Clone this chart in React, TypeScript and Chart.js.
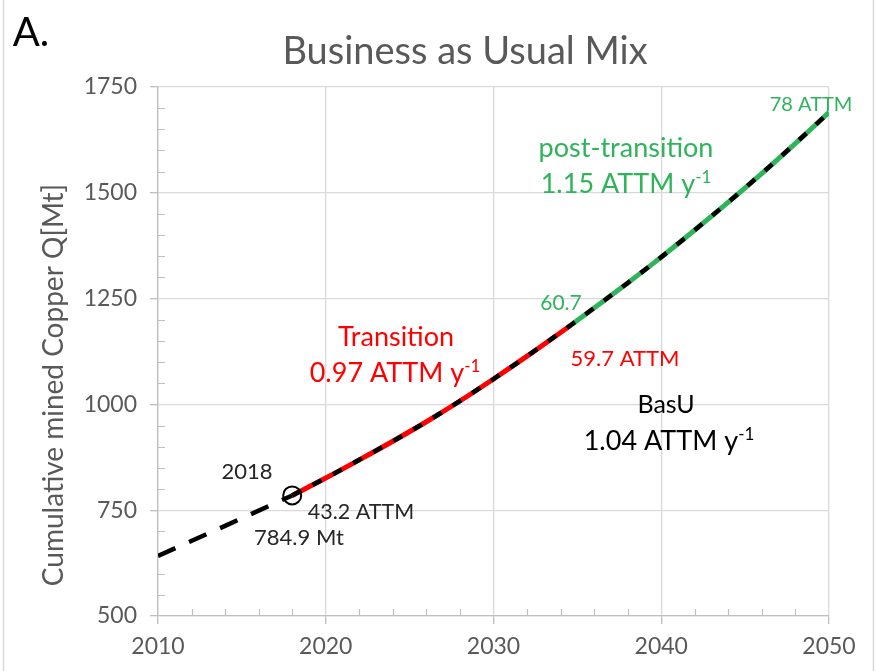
import React, { useEffect, useRef } from 'react';
import { Chart, registerables } from 'chart.js';
Chart.register(...registerables);

// ---- data ----
const histYears = [2010, 2014, 2018];
const histQ = [642, 713, 784.9];
const projYears = [2018, 2020, 2022, 2024, 2026, 2028, 2030, 2032, 2034, 2034.6, 2036, 2038, 2040, 2042, 2044, 2046, 2048, 2050];
const projQ = [784.9, 826, 869, 913, 959, 1008, 1060, 1114, 1170, 1187, 1228, 1287, 1348, 1412, 1478, 1546, 1617, 1690];
const transitionEndYear = 2034.6;
const markerYear = 2018;
const markerQ = 784.9;
const xTicks = [2010, 2020, 2030, 2040, 2050];
const yTicks = [500, 750, 1000, 1250, 1500, 1750];
const xMinorStep = 2;
const yMinorStep = 50;

const RED = '#ff0000';
const GREEN = '#2fb45c';
const GRAY_TXT = '#595959';
const GRID = '#d9d9d9';
const FONT = 'Lato';

const pts = (xs: number[], ys: number[]) => xs.map((x, i) => ({ x, y: ys[i] }));

type Part = { t: string; sup?: boolean };

function drawParts(ctx: CanvasRenderingContext2D, parts: Part[], cx: number, y: number, size: number, color: string) {
  ctx.save();
  ctx.fillStyle = color;
  ctx.textBaseline = 'alphabetic';
  ctx.textAlign = 'left';
  let total = 0;
  const widths = parts.map(p => {
    ctx.font = `${p.sup ? Math.round(size * 0.62) : size}px ${FONT}`;
    const w = ctx.measureText(p.t).width;
    total += w;
    return w;
  });
  let x = cx - total / 2;
  parts.forEach((p, i) => {
    ctx.font = `${p.sup ? Math.round(size * 0.62) : size}px ${FONT}`;
    ctx.fillText(p.t, x, p.sup ? y - size * 0.38 : y);
    x += widths[i];
  });
  ctx.restore();
}

const decorPlugin = {
  id: 'decor',
  beforeDatasetsDraw(chart: any) {
    const { ctx, scales } = chart;
    const xs = scales.x, ys = scales.y;
    ctx.save();
    ctx.strokeStyle = '#bfbfbf';
    ctx.lineWidth = 1.2;
    ctx.beginPath();
    for (let v = xs.min; v <= xs.max; v += xMinorStep) {
      if (xTicks.includes(v)) continue;
      const px = Math.round(xs.getPixelForValue(v)) + 0.5;
      ctx.moveTo(px, ys.bottom);
      ctx.lineTo(px, ys.bottom - 7);
    }
    for (let v = ys.min; v <= ys.max; v += yMinorStep) {
      if (yTicks.includes(v)) continue;
      const py = Math.round(ys.getPixelForValue(v)) + 0.5;
      ctx.moveTo(xs.left, py);
      ctx.lineTo(xs.left + 7, py);
    }
    ctx.stroke();
    ctx.restore();
  },
  afterDraw(chart: any) {
    const { ctx } = chart;
    ctx.save();
    // outer frame lines
    ctx.strokeStyle = GRID;
    ctx.lineWidth = 1.5;
    ctx.beginPath();
    ctx.moveTo(3.5, 0); ctx.lineTo(3.5, 671);
    ctx.moveTo(873.5, 0); ctx.lineTo(873.5, 671);
    ctx.stroke();

    // panel letter
    drawParts(ctx, [{ t: 'A.' }], 31, 46, 40, '#000');
    // title
    drawParts(ctx, [{ t: 'Business as Usual Mix' }], 465, 64, 38, GRAY_TXT);
    // y title
    ctx.save();
    ctx.translate(63, 385);
    ctx.rotate(-Math.PI / 2);
    drawParts(ctx, [{ t: 'Cumulative mined Copper Q[Mt]' }], 0, 0, 28, GRAY_TXT);
    ctx.restore();

    // annotations
    drawParts(ctx, [{ t: '78 ATTM' }], 811, 111, 20, GREEN);
    drawParts(ctx, [{ t: 'post-transition' }], 626, 157, 27, GREEN);
    drawParts(ctx, [{ t: '1.15 ATTM y' }, { t: '-1', sup: true }], 626, 193, 27, GREEN);
    drawParts(ctx, [{ t: '60.7' }], 561, 310, 21, GREEN);
    drawParts(ctx, [{ t: 'Transition' }], 396, 346, 27, RED);
    drawParts(ctx, [{ t: '0.97 ATTM y' }, { t: '-1', sup: true }], 395, 382, 27, RED);
    drawParts(ctx, [{ t: '59.7 ATTM' }], 625, 366, 22, RED);
    drawParts(ctx, [{ t: 'BasU' }], 666, 413, 25, '#000');
    drawParts(ctx, [{ t: '1.04 ATTM y' }, { t: '-1', sup: true }], 669, 450, 27, '#000');
    drawParts(ctx, [{ t: '2018' }], 247, 479, 22, '#262626');
    drawParts(ctx, [{ t: '43.2 ATTM' }], 361, 519, 21.5, '#262626');
    drawParts(ctx, [{ t: '784.9 Mt' }], 299, 545, 22, '#262626');
    ctx.restore();
  },
};

export default function App() {
  const ref = useRef<HTMLCanvasElement>(null);
  useEffect(() => {
    if (!ref.current) return;
    const proj = pts(projYears, projQ);
    const chart = new Chart(ref.current, {
      type: 'line',
      data: {
        datasets: [
          {
            label: '2018',
            order: 0,
            data: [{ x: markerYear, y: markerQ }],
            showLine: false,
            pointRadius: 9,
            pointBorderWidth: 2,
            pointBorderColor: '#000',
            pointBackgroundColor: 'rgba(0,0,0,0)',
          },
          {
            label: 'BasU',
            order: 1,
            data: pts(projYears, projQ),
            borderColor: '#000',
            borderWidth: 4.5,
            borderDash: [10, 13],
            borderCapStyle: 'butt',
            pointRadius: 0,
            cubicInterpolationMode: 'monotone',
          },
          {
            label: 'History',
            order: 1,
            data: pts(histYears, histQ),
            borderColor: '#000',
            borderWidth: 4.5,
            borderDash: [19, 15],
            pointRadius: 0,
          },
          {
            label: 'Transition',
            order: 2,
            data: proj.filter(p => p.x <= transitionEndYear),
            borderColor: RED,
            borderWidth: 5,
            pointRadius: 0,
            cubicInterpolationMode: 'monotone',
          },
          {
            label: 'post-transition',
            order: 2,
            data: proj.filter(p => p.x >= transitionEndYear),
            borderColor: GREEN,
            borderWidth: 5,
            pointRadius: 0,
            cubicInterpolationMode: 'monotone',
          },
        ] as any,
      },
      options: {
        responsive: false,
        animation: false,
        layout: { padding: { top: 87, right: 48, left: 0, bottom: 0 } },
        plugins: { legend: { display: false }, tooltip: { enabled: false }, title: { display: false } },
        scales: {
          x: {
            type: 'linear',
            min: 2010,
            max: 2050,
            afterBuildTicks: (s: any) => { s.ticks = xTicks.map(v => ({ value: v })); },
            afterFit: (s: any) => { s.height = 55; },
            ticks: {
              callback: (v: any) => String(v),
              font: { family: FONT, size: 23 },
              color: GRAY_TXT,
              padding: 9,
              maxRotation: 0,
            },
            grid: { color: GRID, lineWidth: 1.3, tickLength: 8, tickColor: '#bfbfbf' },
            border: { color: '#bfbfbf', width: 1.3 },
          },
          y: {
            type: 'linear',
            min: 500,
            max: 1750,
            afterBuildTicks: (s: any) => { s.ticks = yTicks.map(v => ({ value: v })); },
            afterFit: (s: any) => { s.width = 158; },
            ticks: {
              callback: (v: any) => String(v),
              font: { family: FONT, size: 23 },
              color: GRAY_TXT,
              padding: 13,
            },
            grid: { color: GRID, lineWidth: 1.3, tickLength: 8, tickColor: '#bfbfbf' },
            border: { color: '#bfbfbf', width: 1.3 },
          },
        },
      } as any,
      plugins: [decorPlugin],
    });
    return () => chart.destroy();
  }, []);
  return (
    <div style={{ position: 'fixed', left: 0, top: 0, width: 877, height: 671, background: '#fff' }}>
      <canvas ref={ref} width={877} height={671} style={{ display: 'block', width: 877, height: 671 }} />
    </div>
  );
}
